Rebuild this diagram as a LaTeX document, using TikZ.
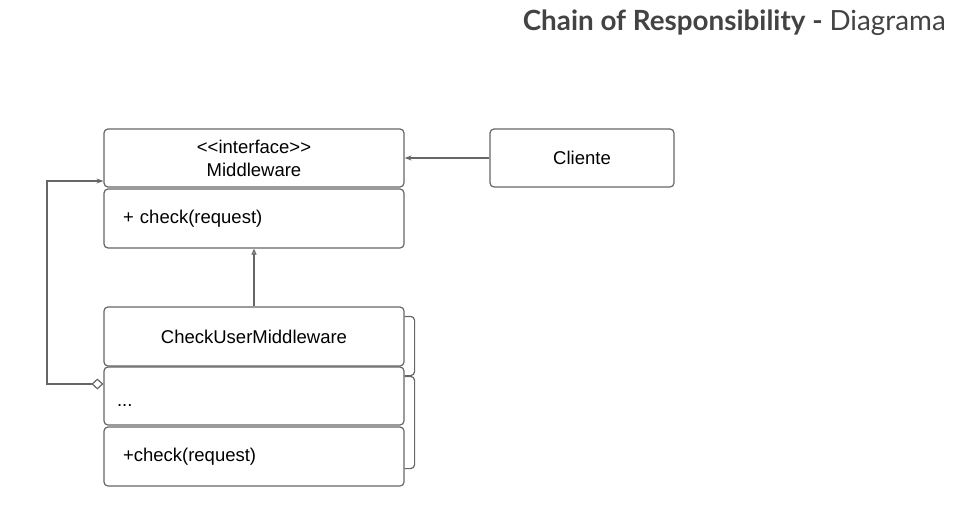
\documentclass[tikz,border=0pt]{standalone}
\usepackage{fontspec}
\setmainfont{Liberation Sans}
\newfontfamily\titlefont{Lato}
\usetikzlibrary{arrows.meta,calc}
\definecolor{linegray}{HTML}{666666}
\definecolor{titlegray}{HTML}{434343}
\tikzset{
  umlbox/.style={draw=linegray, line width=1.2pt, rounded corners=4pt, minimum width=300pt, inner sep=0pt, font=\fontsize{18.5}{22}\selectfont},
  leftbox/.style={umlbox, text width=262pt, align=left},
  conn/.style={draw=linegray, line width=1.2pt},
}
\begin{document}
\begin{tikzpicture}[x=1pt,y=-1pt]
\useasboundingbox (0,0) rectangle (965,524);
% title
\node[anchor=base east, inner sep=0pt, text=titlegray, font=\titlefont\fontsize{27.8}{32}\selectfont] (title) at (946,31) {\textbf{Chain of Responsibility -} Diagrama};
% Middleware
\node[umlbox, minimum height=58pt, align=center] (mw) at (254,158) {\textless\kern0pt\textless interface\textgreater\kern0pt\textgreater\\[1pt]Middleware};
\node[leftbox, minimum height=59pt] (mwb) at (254,218.5) {+ check(request)};
% Cliente
\node[umlbox, minimum width=184pt, minimum height=58pt] (cli) at (582,158) {Cliente};
% CheckUserMiddleware
\node[umlbox, minimum height=59pt] (cu) at (254,336.5) {CheckUserMiddleware};
\node[leftbox, minimum height=58pt, text width=274pt] (dots) at (254,396) {\strut\\[-16pt]...};
\node[leftbox, minimum height=59pt] (cub) at (254,456.5) {+check(request)};
% connectors
\draw[conn, -{Stealth[length=7pt,width=5pt]}] (cli.west) -- (mw.east);
\draw[conn, -{Triangle[open,length=6pt,width=5pt]}] (cu.north) -- (mwb.south);
\coordinate (aggstart) at ($(dots.west)+(0,-12)$);
\coordinate (aggend) at ($(mw.west)+(0,23)$);
\coordinate (aggleft) at (47,0);
\draw[conn, {Diamond[open,fill=white,length=12pt,width=11pt]}-{Stealth[length=7pt,width=5pt]}] (aggstart) -- (aggstart -| aggleft) -- (aggend -| aggleft) -- (aggend);
% brackets
\draw[conn, rounded corners=4pt] ($(cu.north east)+(0,10)$) -- ++(10,0) -- ($(cu.south east)+(10,9)$) -- ++(-10,0);
\draw[conn, rounded corners=4pt] ($(dots.north east)+(0,10)$) -- ++(10,0) -- ($(cub.south east)+(10,-18)$) -- ++(-10,0);
\end{tikzpicture}
\end{document}
